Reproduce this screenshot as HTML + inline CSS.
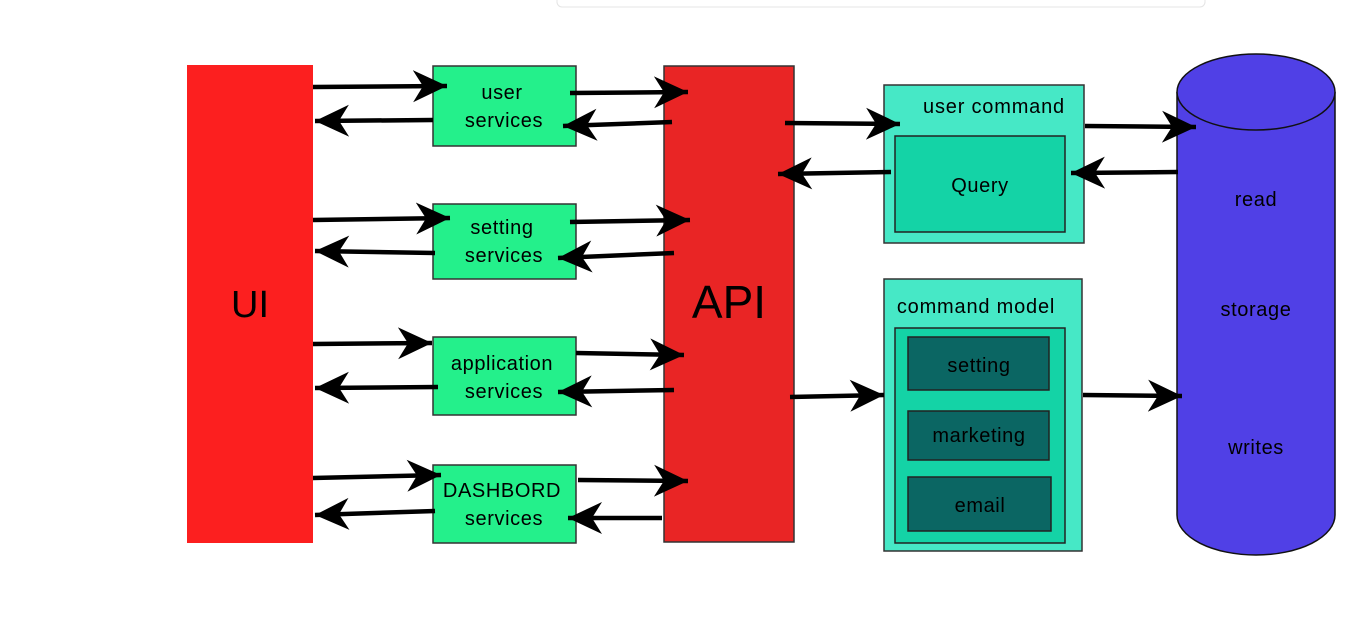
<!DOCTYPE html>
<html><head><meta charset="utf-8"><style>
html,body{margin:0;padding:0;background:#fff;}
svg{display:block;font-family:"Liberation Sans",sans-serif;}
</style></head><body>
<svg width="1349" height="628" viewBox="0 0 1349 628" xmlns="http://www.w3.org/2000/svg">
<defs>
<marker id="a" markerUnits="userSpaceOnUse" markerWidth="40" markerHeight="40" refX="34" refY="20" orient="auto" viewBox="0 0 40 40">
<path d="M0,4 L34,20 L0,36 L10,20 z" fill="#000"/>
</marker>
</defs>
<rect x="557" y="-10" width="648" height="17" rx="5" fill="#fff" stroke="#e4e4e4"/>
<rect x="187" y="65" width="126" height="478" fill="#fc1f1f"/>
<text x="250" y="317" font-size="38" text-anchor="middle">UI</text>
<rect x="664" y="66" width="130" height="476" fill="#e92525" stroke="#333" stroke-width="1.5"/>
<text x="729" y="318" font-size="46" text-anchor="middle">API</text>
<g fill="#24f08b" stroke="#333" stroke-width="1.5">
<rect x="433" y="66" width="143" height="80"/>
<rect x="433" y="204" width="143" height="75"/>
<rect x="433" y="337" width="143" height="78"/>
<rect x="433" y="465" width="143" height="78"/>
</g>
<g font-size="20" text-anchor="middle" letter-spacing="0.6">
<text x="502" y="99">user</text><text x="504" y="127">services</text>
<text x="502" y="234">setting</text><text x="504" y="262">services</text>
<text x="502" y="370">application</text><text x="504" y="398">services</text>
<text x="502" y="497">DASHBORD</text><text x="504" y="525">services</text>
</g>
<rect x="884" y="85" width="200" height="158" fill="#46e8c6" stroke="#333" stroke-width="1.5"/>
<text x="994" y="113" font-size="20" letter-spacing="0.8" text-anchor="middle">user command</text>
<rect x="895" y="136" width="170" height="96" fill="#14d3a6" stroke="#222" stroke-width="1.5"/>
<text x="980" y="192" font-size="20" letter-spacing="0.6" text-anchor="middle">Query</text>
<rect x="884" y="279" width="198" height="272" fill="#46e8c6" stroke="#333" stroke-width="1.5"/>
<text x="976" y="313" font-size="20" letter-spacing="0.8" text-anchor="middle">command model</text>
<rect x="895" y="328" width="170" height="215" fill="#14d3a6" stroke="#222" stroke-width="1.5"/>
<g fill="#0b6663" stroke="#222" stroke-width="1.5">
<rect x="908" y="337" width="141" height="53"/>
<rect x="908" y="411" width="141" height="49"/>
<rect x="908" y="477" width="143" height="54"/>
</g>
<g font-size="20" text-anchor="middle" letter-spacing="0.6">
<text x="979" y="372">setting</text>
<text x="979" y="442">marketing</text>
<text x="980" y="512">email</text>
</g>
<path d="M1177,92 L1177,515 A79,40 0 0 0 1335,515 L1335,92" fill="#5040e6" stroke="#111" stroke-width="1.5"/>
<ellipse cx="1256" cy="92" rx="79" ry="38" fill="#5040e6" stroke="#111" stroke-width="1.5"/>
<g font-size="20" text-anchor="middle" letter-spacing="0.6">
<text x="1256" y="206">read</text>
<text x="1256" y="316">storage</text>
<text x="1256" y="454">writes</text>
</g>
<g stroke="#000" stroke-width="4.5" marker-end="url(#a)" fill="none">
<line x1="313" y1="87" x2="447" y2="86"/>
<line x1="433" y1="120" x2="315" y2="121"/>
<line x1="570" y1="93" x2="688" y2="92"/>
<line x1="672" y1="122" x2="563" y2="126"/>
<line x1="313" y1="220" x2="450" y2="218"/>
<line x1="435" y1="253" x2="315" y2="251"/>
<line x1="570" y1="222" x2="690" y2="220"/>
<line x1="674" y1="253" x2="558" y2="258"/>
<line x1="313" y1="344" x2="432" y2="343"/>
<line x1="438" y1="387" x2="315" y2="388"/>
<line x1="576" y1="353" x2="684" y2="355"/>
<line x1="674" y1="390" x2="558" y2="392"/>
<line x1="313" y1="478" x2="441" y2="475"/>
<line x1="435" y1="511" x2="315" y2="515"/>
<line x1="578" y1="480" x2="688" y2="481"/>
<line x1="662" y1="518" x2="568" y2="518"/>
<line x1="785" y1="123" x2="900" y2="124"/>
<line x1="891" y1="172" x2="778" y2="174"/>
<line x1="1085" y1="126" x2="1196" y2="127"/>
<line x1="1178" y1="172" x2="1071" y2="173"/>
<line x1="790" y1="397" x2="884" y2="395"/>
<line x1="1083" y1="395" x2="1182" y2="396"/>
</g>
</svg>
</body></html>
